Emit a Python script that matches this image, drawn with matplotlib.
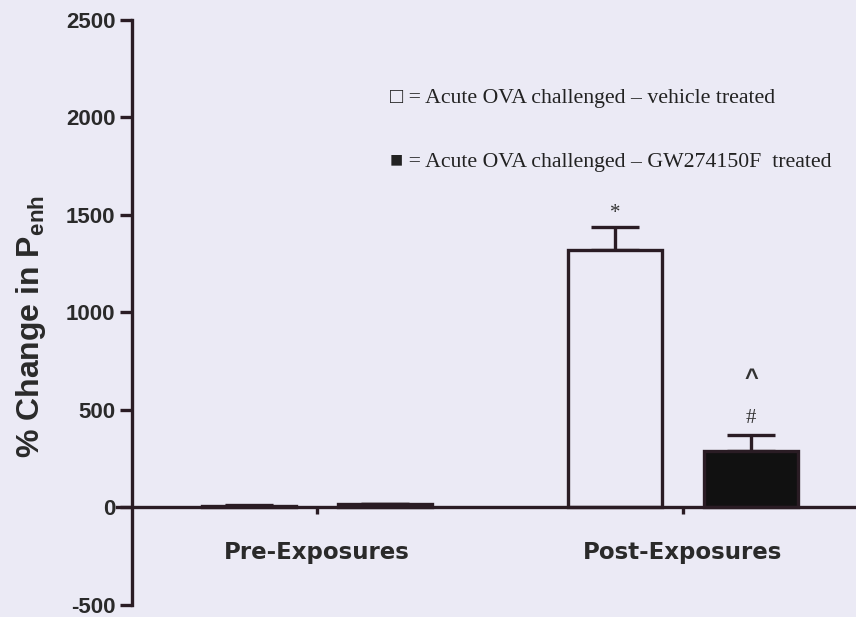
import matplotlib
matplotlib.use("Agg")
import matplotlib.pyplot as plt
import numpy as np

plt.rcParams["mathtext.fontset"] = "custom"
plt.rcParams["mathtext.rm"] = "Liberation Sans:bold"
plt.rcParams["mathtext.bf"] = "Liberation Sans:bold"
plt.rcParams["mathtext.it"] = "Liberation Sans:bold"

# ---- data ----
groups = ["Pre-Exposures", "Post-Exposures"]
vehicle_mean = [5, 1320]
vehicle_err = [5, 115]
gw_mean = [15, 287]
gw_err = [5, 82]
yticks = [-500, 0, 500, 1000, 1500, 2000, 2500]
legend_labels = ["= Acute OVA challenged \u2013 vehicle treated",
                 "= Acute OVA challenged \u2013 GW274150F  treated"]

bg = "#ebeaf5"
ink = "#2a1c24"
txt = "#2a2a2a"

fig = plt.figure(figsize=(8.56, 6.17), dpi=100, facecolor=bg)
# axes: left spine at x=132px, bottom (-500) at y~605px, 2500 at y~19px
ax = fig.add_axes([132/856, (617-605)/617, (856-132)/856, (605-19.5)/617])
ax.set_facecolor(bg)

x = np.arange(len(groups))
w = 0.257
off = 0.186
ax.bar(x - off, vehicle_mean, w, facecolor=bg, edgecolor=ink, linewidth=2.4, zorder=3)
ax.bar(x + off, gw_mean, w, facecolor="#111111", edgecolor=ink, linewidth=2.4, zorder=3)
ax.errorbar(x - off, vehicle_mean, yerr=[np.zeros(len(x)), vehicle_err], fmt="none",
            ecolor=ink, elinewidth=2.4, capsize=17, capthick=2.4, zorder=2)
ax.errorbar(x + off, gw_mean, yerr=[np.zeros(len(x)), gw_err], fmt="none",
            ecolor=ink, elinewidth=2.4, capsize=17, capthick=2.4, zorder=2)

xlo, xhi = -0.505, 1.473
ax.set_xlim(xlo, xhi)
ax.set_ylim(-500, 2500)

for s in ["top", "right"]:
    ax.spines[s].set_visible(False)
ax.spines["left"].set_linewidth(2.4)
ax.spines["left"].set_color(ink)
ax.spines["bottom"].set_position(("data", 0))
ax.spines["bottom"].set_linewidth(2.4)
ax.spines["bottom"].set_color(ink)
ax.spines["bottom"].set_bounds(xlo - 0.04, xhi)
ax.spines["bottom"].set_zorder(4)

ax.set_yticks(yticks)
ax.set_yticklabels([str(v) for v in yticks], fontsize=16, fontweight="bold", color=txt,
                   family="Liberation Sans")
ax.tick_params(axis="y", direction="out", length=9, width=2.4, color=ink, pad=3)
ax.set_xticks(x)
ax.set_xticklabels(groups, fontsize=16.5, fontweight="bold", color=txt, family="DejaVu Sans")
ax.tick_params(axis="x", direction="out", length=5, width=2.4, color=ink, pad=19)

ax.set_ylabel("% Change in P$_{\\mathrm{enh}}$", fontsize=23, fontweight="bold", color=txt,
              family="Liberation Sans", va="center", ha="center")
ax.yaxis.set_label_coords((31 - 132) / 724, (605 - 327) / 585.5)

# significance marks
ax.text(x[1] - off, vehicle_mean[1] + vehicle_err[1] + 70, "*", ha="center", va="center",
        fontsize=15, family="Liberation Serif", color="#333333")
ax.text(x[1] + off, gw_mean[1] + gw_err[1] + 88, "#", ha="center", va="center",
        fontsize=15, family="Liberation Serif", color="#333333")
ax.text(x[1] + off, gw_mean[1] + gw_err[1] + 290, "^", ha="center", va="center",
        fontsize=17, family="Liberation Sans", fontweight="bold", color="#333333")

# legend as text
fig.text(390/856, 1 - 98/617, "\u25a1 " + legend_labels[0], fontsize=15.7,
         family=["Liberation Serif", "DejaVu Sans"], va="center", ha="left", color="#222222")
fig.text(390/856, 1 - 162/617, "\u25a0 " + legend_labels[1], fontsize=15.7,
         family=["Liberation Serif", "DejaVu Sans"], va="center", ha="left", color="#222222")

fig.savefig("out.png", dpi=100, facecolor=bg)
